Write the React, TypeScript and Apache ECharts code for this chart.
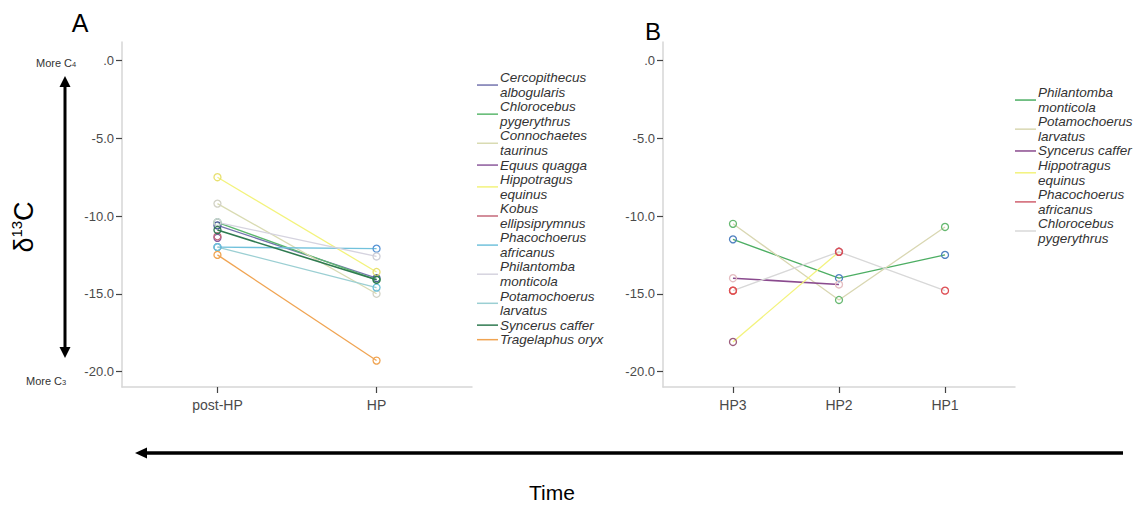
import React, { useEffect, useRef } from 'react';
import * as echarts from 'echarts';

// ---------- data ----------
const periodsA = ['post-HP', 'HP'];
const periodsB = ['HP3', 'HP2', 'HP1'];
const yTicks = [0, -5, -10, -15, -20];

const speciesA = [
  'Cercopithecus albogularis',
  'Chlorocebus pygerythrus',
  'Connochaetes taurinus',
  'Equus quagga',
  'Hippotragus equinus',
  'Kobus ellipsiprymnus',
  'Phacochoerus africanus',
  'Philantomba monticola',
  'Potamochoerus larvatus',
  'Syncerus caffer',
  'Tragelaphus oryx',
];
// values per species: [post-HP, HP]
const cercopithecusA = [-10.6, -14.0];
const chlorocebusA = [-10.4, -14.1];
const connochaetesA = [-9.2, -15.0];
const equusA = [-11.4, null];
const hippotragusA = [-7.5, -13.6];
const kobusA = [-11.3, null];
const phacochoerusA = [-12.0, -12.1];
const philantombaA = [-10.4, -12.6];
const potamochoerusA = [-12.0, -14.6];
const syncerusA = [-10.9, -14.1];
const tragelaphusA = [-12.5, -19.3];
const valuesA = [
  cercopithecusA, chlorocebusA, connochaetesA, equusA, hippotragusA, kobusA,
  phacochoerusA, philantombaA, potamochoerusA, syncerusA, tragelaphusA,
];

const speciesB = [
  'Philantomba monticola',
  'Potamochoerus larvatus',
  'Syncerus caffer',
  'Hippotragus equinus',
  'Phacochoerus africanus',
  'Chlorocebus pygerythrus',
];
// values per species: [HP3, HP2, HP1]
const philantombaB = [-11.5, -14.0, -12.5];
const potamochoerusB = [-10.5, -15.4, -10.7];
const syncerusB = [-14.0, -14.4, null];
const hippotragusB = [-18.1, -12.3, null];
const phacochoerusB = [-14.8, null, null];
const chlorocebusB = [-14.8, -12.3, -14.8];
const valuesB = [philantombaB, potamochoerusB, syncerusB, hippotragusB, phacochoerusB, chlorocebusB];

const singleLineNames = ['Equus quagga', 'Syncerus caffer', 'Tragelaphus oryx'];

// ---------- styles ----------
const lineColorsA = ['#7474ae', '#5cb86e', '#d9dbb2', '#8c5a9c', '#f3f37c', '#c4687a', '#72c2dc', '#d5d3df', '#9bcfd3', '#2f7a50', '#f0a452'];
const markerColorsA = ['#4a5a98', '#5cb86e', '#d2d2c6', '#8c5a9c', '#e8e070', '#c4687a', '#5a95d6', '#cfcfd8', '#6cc0d8', '#2f7a50', '#f0a452'];
const lineColorsB = ['#4dae63', '#d9d7b2', '#8a4a8e', '#f3f37c', '#d0606e', '#d8d8d8'];
const markerColorsB = ['#4f80c0', '#66b870', '#e4bcc0', '#9c5c7c', '#e2664e', '#de4e54'];

const FONT = '"Liberation Sans", Arial, sans-serif';

function buildSeries(names: string[], values: (number | null)[][], lineColors: string[], markerColors: string[], idx: number) {
  return names.map((name, i) => ({
    name,
    type: 'line',
    xAxisIndex: idx,
    yAxisIndex: idx,
    data: values[i]
      .map((v, k) => (v == null ? null : [k, v]))
      .filter((d) => d !== null),
    symbol: 'circle',
    symbolSize: 7,
    showSymbol: true,
    showAllSymbol: true,
    z: name === 'Syncerus caffer' && idx === 0 ? 4 : 2,
    lineStyle: { color: lineColors[i], width: name === 'Syncerus caffer' ? 1.6 : 1.3 },
    itemStyle: { color: 'rgba(255,255,255,0)', borderColor: markerColors[i], borderWidth: 1.3 },
    emphasis: { disabled: true },
  }));
}

function legendGraphics(names: string[], colors: string[], left: number, top: number, lineH: number) {
  const els: any[] = [];
  let y = top;
  names.forEach((name, i) => {
    const lines = singleLineNames.includes(name) ? [name] : name.split(' ');
    const h = lines.length * lineH;
    els.push({
      type: 'line',
      shape: { x1: left, y1: y + h / 2, x2: left + 21, y2: y + h / 2 },
      style: { stroke: colors[i], lineWidth: 1.5 },
      silent: true,
    });
    els.push({
      type: 'text',
      x: left + 23,
      y: y,
      style: {
        text: lines.join('\n'),
        fontSize: 13.5,
        fontStyle: 'italic',
        fontFamily: FONT,
        fill: '#333',
        lineHeight: lineH,
        align: 'left',
        verticalAlign: 'top',
      },
      silent: true,
    });
    y += h;
  });
  return els;
}

function xAxis(idx: number, cats: string[], min: number, max: number) {
  const vals = cats.map((_, k) => k);
  return {
    gridIndex: idx,
    type: 'value',
    min,
    max,
    axisLine: { show: true, onZero: false, lineStyle: { color: '#d6d6d6', width: 1.5 } },
    axisTick: { show: true, customValues: vals, length: 6, lineStyle: { color: '#444', width: 1.2 } },
    axisLabel: {
      customValues: vals,
      formatter: (v: number) => cats[Math.round(v)] ?? '',
      color: '#4a4a4a',
      fontSize: 14,
      fontFamily: FONT,
      margin: 11,
    },
    splitLine: { show: false },
  };
}

function yAxis(idx: number) {
  return {
    gridIndex: idx,
    type: 'value',
    min: -21,
    max: 1.2,
    axisLine: { show: true, onZero: false, lineStyle: { color: '#d6d6d6', width: 1.5 } },
    axisTick: { show: true, customValues: yTicks, length: 6, lineStyle: { color: '#444', width: 1.2 } },
    axisLabel: {
      customValues: yTicks,
      formatter: (v: number) => (v === 0 ? '.0' : v.toFixed(1)),
      color: '#4a4a4a',
      fontSize: 13,
      fontFamily: FONT,
      margin: 8,
    },
    splitLine: { show: false },
  };
}

export default function App() {
  const ref = useRef<HTMLDivElement>(null);
  useEffect(() => {
    if (!ref.current) return;
    const chart = echarts.init(ref.current, undefined, { renderer: 'svg' });
    const graphics: any[] = [
      // panel letters
      { type: 'text', x: 80, y: 23, style: { text: 'A', fontSize: 25, fontFamily: FONT, fill: '#000', align: 'center', verticalAlign: 'middle' } },
      { type: 'text', x: 653, y: 31, style: { text: 'B', fontSize: 24, fontFamily: FONT, fill: '#000', align: 'center', verticalAlign: 'middle' } },
      // vertical arrow
      { type: 'line', shape: { x1: 65, y1: 84, x2: 65, y2: 351 }, style: { stroke: '#000', lineWidth: 3 } },
      { type: 'polygon', shape: { points: [[65, 76], [59.5, 87], [70.5, 87]] }, style: { fill: '#000' } },
      { type: 'polygon', shape: { points: [[65, 358], [59.5, 347], [70.5, 347]] }, style: { fill: '#000' } },
      // More C4 / More C3
      {
        type: 'text', x: 36, y: 63,
        style: {
          text: '{a|More C}{s|4}', align: 'left', verticalAlign: 'middle',
          rich: { a: { fontSize: 11, fontFamily: FONT, fill: '#333' }, s: { fontSize: 7.5, fontFamily: FONT, fill: '#333', verticalAlign: 'bottom' } },
        },
      },
      {
        type: 'text', x: 26, y: 381,
        style: {
          text: '{a|More C}{s|3}', align: 'left', verticalAlign: 'middle',
          rich: { a: { fontSize: 11, fontFamily: FONT, fill: '#333' }, s: { fontSize: 7.5, fontFamily: FONT, fill: '#333', verticalAlign: 'bottom' } },
        },
      },
      // δ13C
      {
        type: 'text', x: 24, y: 227, rotation: Math.PI / 2,
        style: {
          text: '{a|δ}{b|13}{a|C}', align: 'center', verticalAlign: 'middle',
          rich: { a: { fontSize: 27, fontFamily: FONT, fill: '#000', lineHeight: 31 }, b: { fontSize: 15, fontFamily: FONT, fill: '#000', verticalAlign: 'top' } },
        },
      },
      // Time arrow
      { type: 'line', shape: { x1: 144, y1: 453, x2: 1123, y2: 453 }, style: { stroke: '#000', lineWidth: 3.5 } },
      { type: 'polygon', shape: { points: [[135, 453], [147, 447.5], [147, 458.5]] }, style: { fill: '#000' } },
      { type: 'text', x: 552, y: 492, style: { text: 'Time', fontSize: 21, fontFamily: FONT, fill: '#000', align: 'center', verticalAlign: 'middle' } },
      ...legendGraphics(speciesA, lineColorsA, 477, 70.5, 14.55),
      ...legendGraphics(speciesB, lineColorsB, 1015, 85.5, 14.55),
    ];

    chart.setOption({
      animation: false,
      backgroundColor: '#fff',
      grid: [
        { left: 122, top: 42, width: 350, height: 345 },
        { left: 663, top: 42, width: 352, height: 345 },
      ],
      xAxis: [xAxis(0, periodsA, -0.6, 1.6), xAxis(1, periodsB, -0.66, 2.66)],
      yAxis: [yAxis(0), yAxis(1)],
      series: [
        ...buildSeries(speciesA, valuesA, lineColorsA, markerColorsA, 0),
        ...buildSeries(speciesB, valuesB, lineColorsB, markerColorsB, 1),
      ],
      graphic: { elements: graphics },
    });
    return () => chart.dispose();
  }, []);
  return <div ref={ref} style={{ position: 'absolute', left: 0, top: 0, width: 1147, height: 505 }} />;
}
